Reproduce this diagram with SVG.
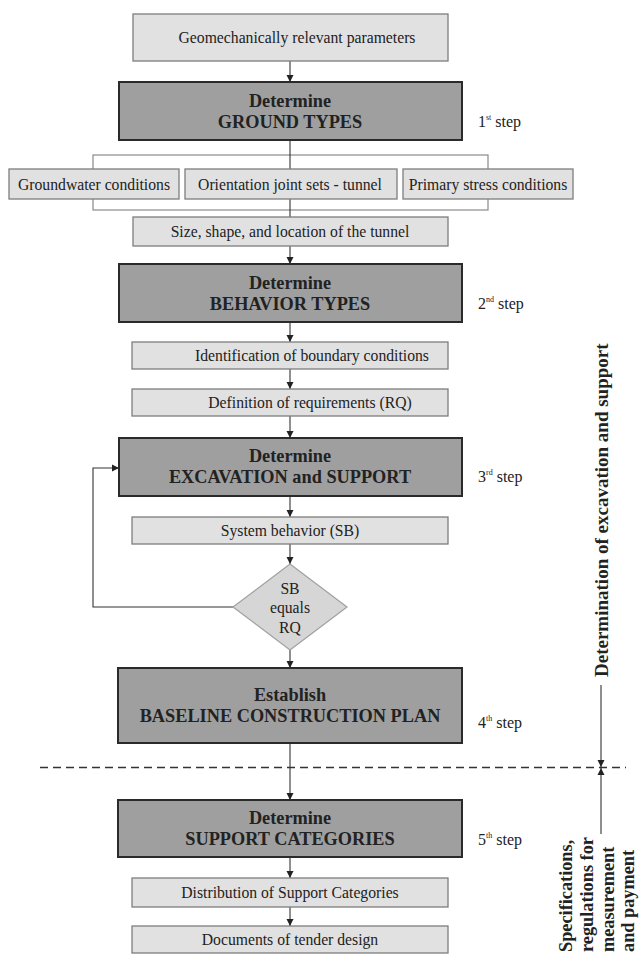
<svg xmlns="http://www.w3.org/2000/svg" width="640" height="954" viewBox="0 0 640 954">
<defs>
<marker id="ah" markerWidth="8" markerHeight="8" refX="7" refY="4" orient="auto" markerUnits="userSpaceOnUse">
<path d="M0,0.5 L7,4 L0,7.5 Z" fill="#222"/>
</marker>
<style>
.lb{fill:#e1e1e1;stroke:#7d7d7d;stroke-width:1.3}
.db{fill:#9f9f9f;stroke:#2a2a2a;stroke-width:2}
.dm{fill:#d6d6d6;stroke:#a0a0a0;stroke-width:1.2}
.t{font-family:"Liberation Serif","Times New Roman",serif;font-size:15.7px;fill:#222;text-anchor:middle}
.b{font-family:"Liberation Serif","Times New Roman",serif;font-size:18.3px;font-weight:bold;fill:#222;text-anchor:middle}
.s{font-family:"Liberation Serif","Times New Roman",serif;font-size:16px;fill:#222}
.v{font-family:"Liberation Serif","Times New Roman",serif;font-size:19px;font-weight:bold;fill:#222}
.v2{font-family:"Liberation Serif","Times New Roman",serif;font-size:18.3px;font-weight:bold;fill:#222}
.c{fill:none;stroke:#333;stroke-width:1.1}
.ca{fill:none;stroke:#333;stroke-width:1.1;marker-end:url(#ah)}
</style>
</defs>
<rect width="640" height="954" fill="#fff"/>

<g id="connectors">
<rect x="93" y="155" width="395" height="55" fill="none" stroke="#8a8a8a" stroke-width="1.2"/>
<line class="ca" x1="290" y1="61" x2="290" y2="82"/>
<line class="c" x1="290" y1="140" x2="290" y2="217"/>
<line class="ca" x1="290" y1="246" x2="290" y2="264"/>
<line class="ca" x1="290" y1="322" x2="290" y2="342"/>
<line class="ca" x1="290" y1="369" x2="290" y2="389"/>
<line class="ca" x1="290" y1="416" x2="290" y2="438"/>
<line class="ca" x1="290" y1="496" x2="290" y2="517"/>
<line class="ca" x1="290" y1="544" x2="290" y2="564"/>
<line class="ca" x1="290" y1="650" x2="290" y2="668"/>
<line class="ca" x1="290" y1="743" x2="290" y2="800"/>
<line class="ca" x1="290" y1="857" x2="290" y2="878"/>
<line class="ca" x1="290" y1="907" x2="290" y2="926"/>
<polyline class="ca" points="233,607 93,607 93,468 119,468"/>
<line x1="40" y1="767.5" x2="626" y2="767.5" stroke="#333" stroke-width="1.5" stroke-dasharray="8,5"/>
<line class="ca" x1="601" y1="685" x2="601" y2="767"/>
<line class="ca" x1="601" y1="834" x2="601" y2="768"/>
</g>

<g id="n-params"><rect class="lb" x="133" y="14" width="315" height="47"/><text class="t" x="297" y="43">Geomechanically relevant parameters</text></g>
<g id="n-ground"><rect class="db" x="119" y="82" width="343" height="58"/><text class="b" x="290" y="107">Determine</text><text class="b" x="290" y="128">GROUND TYPES</text></g>
<g id="n-groundwater"><rect class="lb" x="9" y="169" width="170" height="30"/><text class="t" x="94" y="189.5">Groundwater conditions</text></g>
<g id="n-orientation"><rect class="lb" x="185" y="169" width="212" height="30"/><text class="t" x="290" y="189.5">Orientation joint sets - tunnel</text></g>
<g id="n-stress"><rect class="lb" x="403" y="169" width="170" height="30"/><text class="t" x="488" y="189.5">Primary stress conditions</text></g>
<g id="n-size"><rect class="lb" x="133" y="217" width="315" height="29"/><text class="t" x="290" y="237">Size, shape, and location of the tunnel</text></g>
<g id="n-behavior"><rect class="db" x="119" y="264" width="343" height="58"/><text class="b" x="290" y="289">Determine</text><text class="b" x="290" y="310">BEHAVIOR TYPES</text></g>
<g id="n-ident"><rect class="lb" x="132" y="342" width="316" height="27"/><text class="t" x="312" y="361">Identification of boundary conditions</text></g>
<g id="n-req"><rect class="lb" x="132" y="389" width="316" height="27"/><text class="t" x="310" y="408">Definition of requirements (RQ)</text></g>
<g id="n-excav"><rect class="db" x="119" y="438" width="343" height="58"/><text class="b" x="290" y="462">Determine</text><text class="b" x="290" y="483">EXCAVATION and SUPPORT</text></g>
<g id="n-sb"><rect class="lb" x="132" y="517" width="316" height="27"/><text class="t" x="290" y="536">System behavior (SB)</text></g>
<g id="n-decision"><polygon class="dm" points="290,564 347,607 290,650 233,607"/><text class="t" x="290" y="594" font-size="16">SB</text><text class="t" x="290" y="613" font-size="16">equals</text><text class="t" x="290" y="633" font-size="16">RQ</text></g>
<g id="n-baseline"><rect class="db" x="118" y="668" width="344" height="75"/><text class="b" x="290" y="701">Establish</text><text class="b" x="290" y="722">BASELINE CONSTRUCTION PLAN</text></g>
<g id="n-support"><rect class="db" x="118" y="800" width="344" height="57"/><text class="b" x="290" y="824">Determine</text><text class="b" x="290" y="845">SUPPORT CATEGORIES</text></g>
<g id="n-dist"><rect class="lb" x="132" y="878" width="316" height="29"/><text class="t" x="290" y="898">Distribution of Support Categories</text></g>
<g id="n-docs"><rect class="lb" x="132" y="926" width="316" height="27"/><text class="t" x="290" y="945">Documents of tender design</text></g>

<g id="steps">
<text class="s" x="478" y="127">1<tspan font-size="8" dy="-7">st</tspan><tspan dy="7"> step</tspan></text>
<text class="s" x="478" y="309">2<tspan font-size="8" dy="-7">nd</tspan><tspan dy="7"> step</tspan></text>
<text class="s" x="478" y="482">3<tspan font-size="8" dy="-7">rd</tspan><tspan dy="7"> step</tspan></text>
<text class="s" x="478" y="728">4<tspan font-size="8" dy="-7">th</tspan><tspan dy="7"> step</tspan></text>
<text class="s" x="478" y="845">5<tspan font-size="8" dy="-7">th</tspan><tspan dy="7"> step</tspan></text>
</g>

<g id="side-labels">
<text class="v" transform="translate(607.5,677) rotate(-90)">Determination of excavation and support</text>
<text class="v2" transform="translate(572,952) rotate(-90)">Specifications,</text>
<text class="v2" transform="translate(593,952) rotate(-90)">regulations for</text>
<text class="v2" transform="translate(614,952) rotate(-90)">measurement</text>
<text class="v2" transform="translate(634,952) rotate(-90)">and payment</text>
</g>
</svg>
